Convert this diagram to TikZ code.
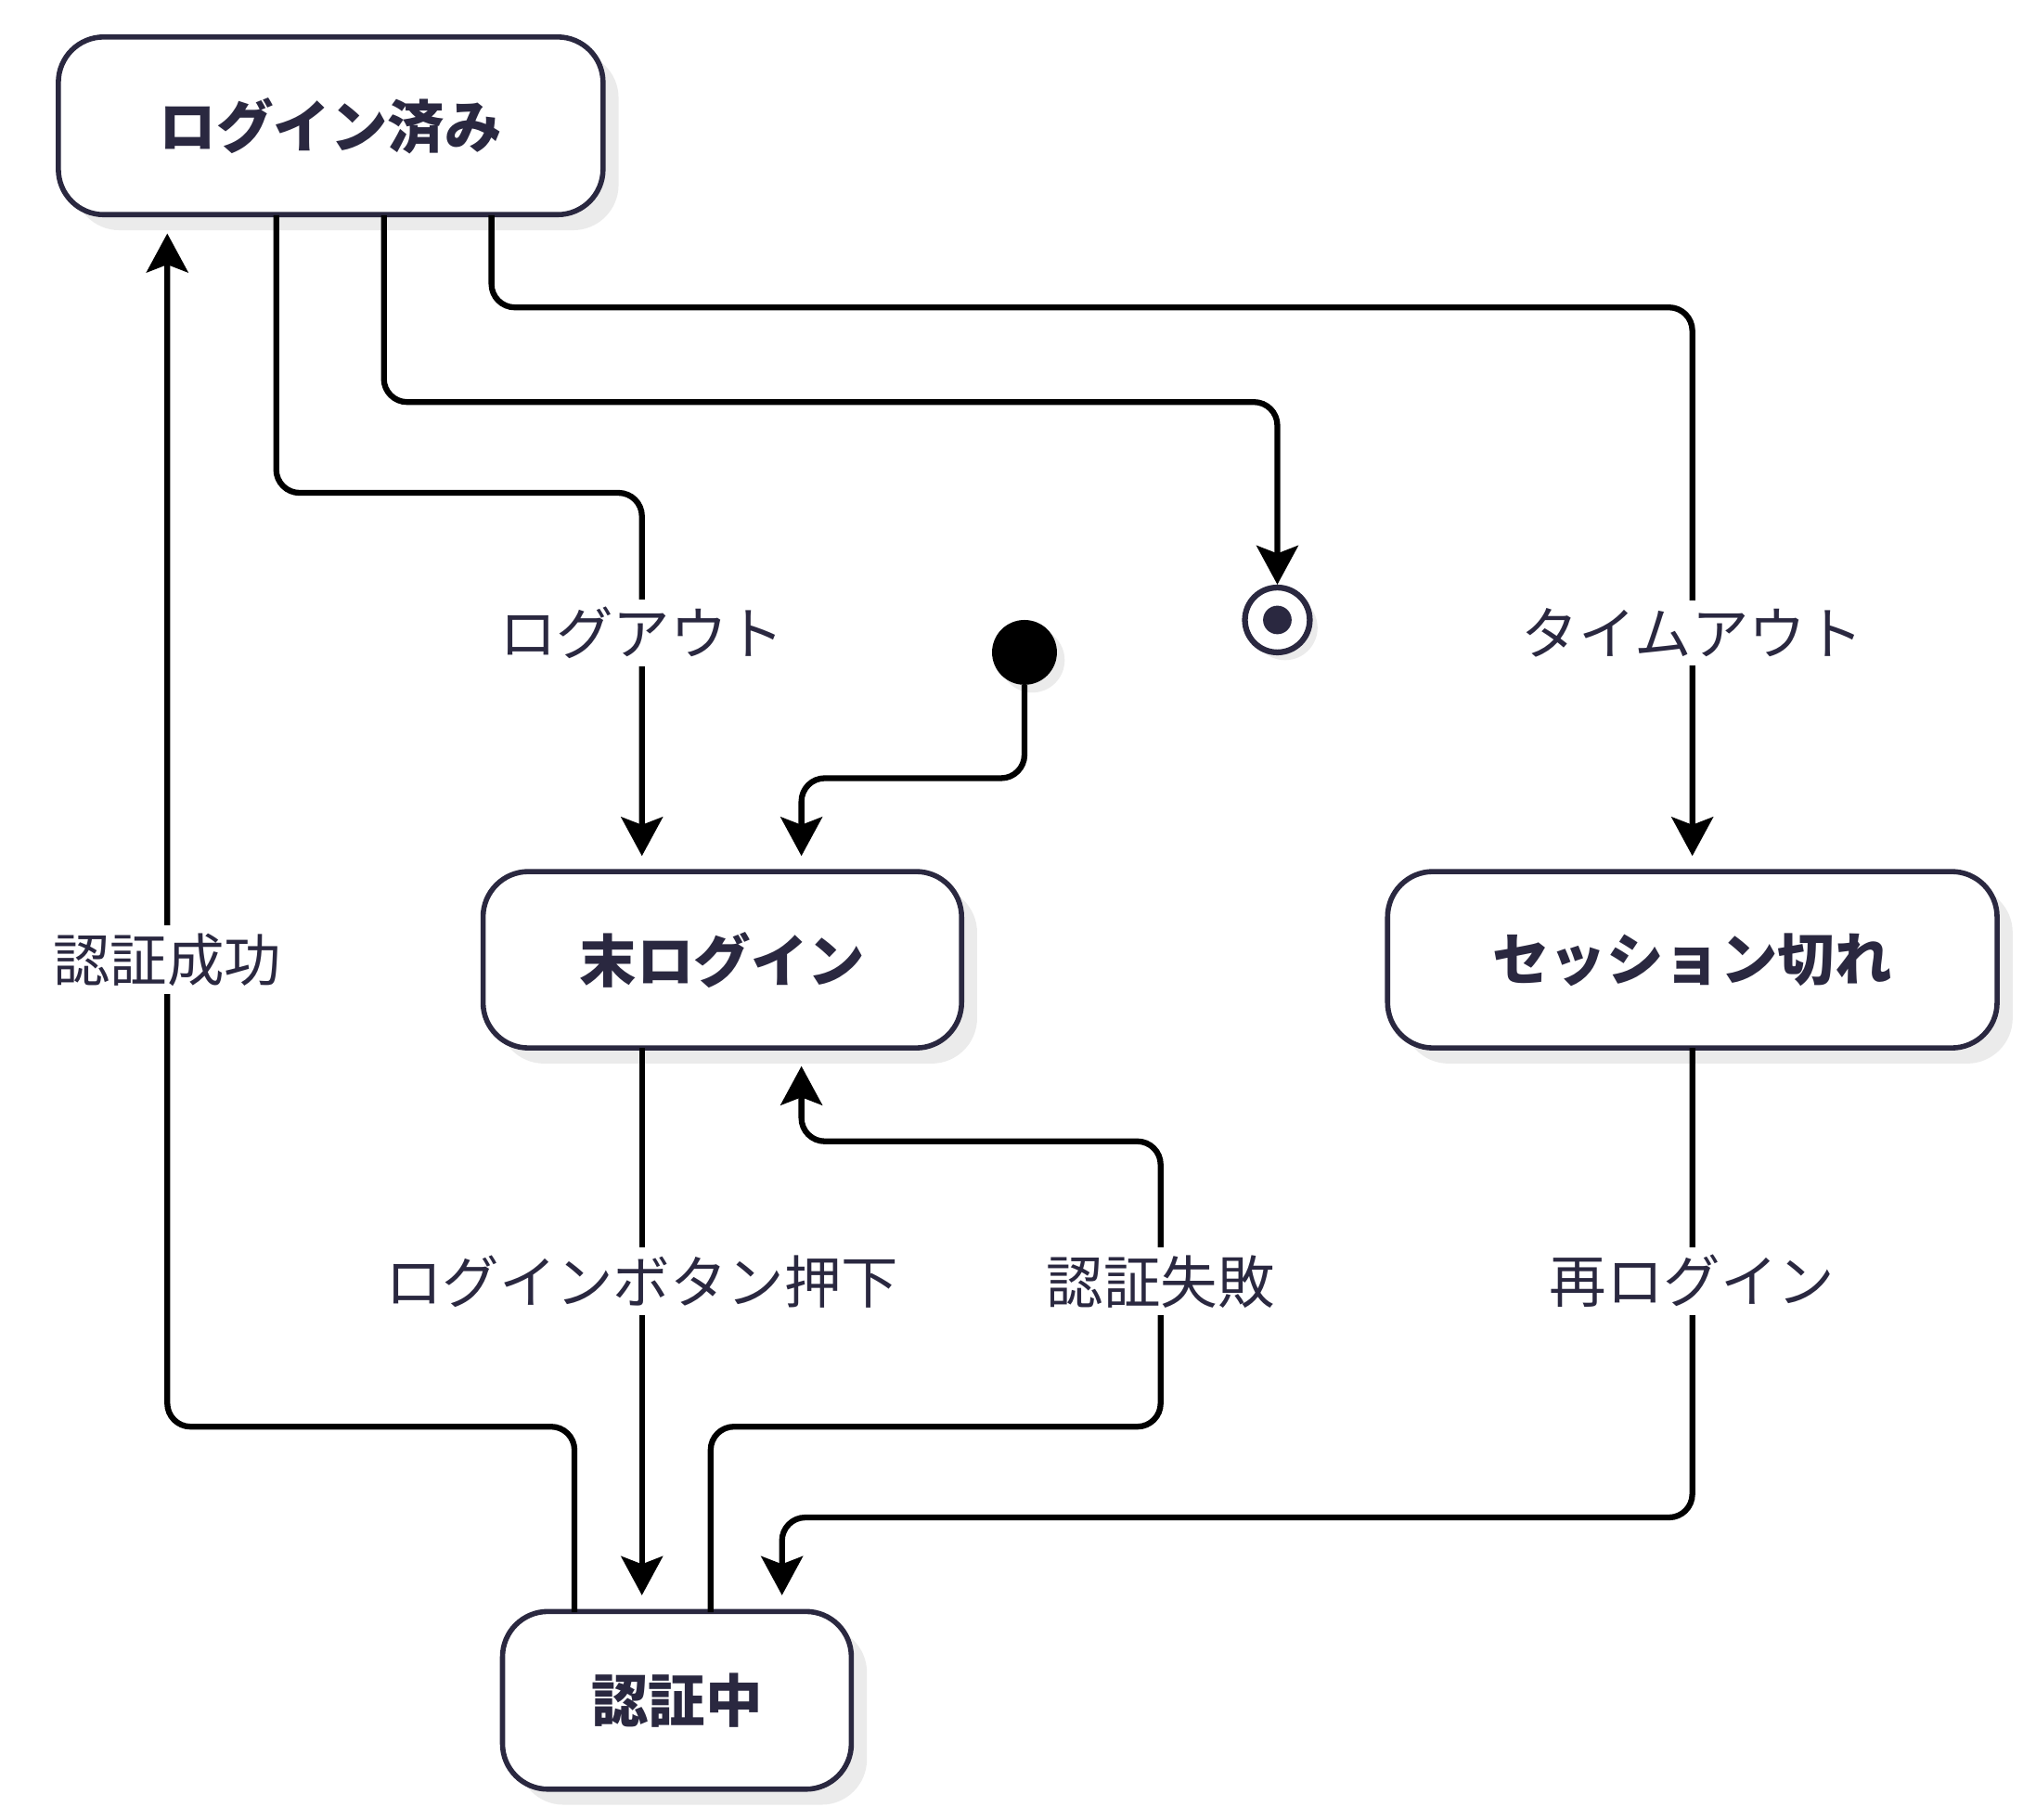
\documentclass[tikz,border=0pt]{standalone}
\usepackage{fontspec}
\setmainfont{Noto Sans CJK JP}
\usetikzlibrary{arrows.meta,shadows}
\definecolor{ink}{HTML}{2A2840}
\begin{document}
\begin{tikzpicture}[x=1pt,y=-1pt,
  st/.style={draw=ink,line width=4pt,rounded corners=35pt,fill=white,
    font=\fontsize{44}{50}\selectfont\bfseries,text=ink,
    drop shadow={shadow xshift=12pt,shadow yshift=-12pt,fill=black!8,opacity=1}},
  ed/.style={line width=4.5pt,rounded corners=18pt,-{Stealth[length=30pt,width=32pt,inset=6pt]}},
  lb/.style={fill=white,text=ink,font=\fontsize{44}{50}\selectfont,inner sep=6pt}]
\useasboundingbox (0,0) rectangle (1560,1403);
\node[st,minimum width=420pt,minimum height=137pt] (li) at (255,97) {ログイン済み};
\node[st,minimum width=369pt,minimum height=136pt] (ml) at (557,740) {末ログイン};
\node[st,minimum width=470pt,minimum height=136pt] (se) at (1305,740) {セッション切れ};
\node[st,minimum width=269pt,minimum height=137pt] (au) at (522,1311) {認証中};
\node[circle,fill=black,minimum size=50pt,inner sep=0pt,drop shadow={shadow xshift=6pt,shadow yshift=-6pt,fill=black!8,opacity=1}] (ini) at (790,503) {};
\node[circle,draw=ink,line width=4.5pt,fill=white,minimum size=50pt,inner sep=0pt,drop shadow={shadow xshift=6pt,shadow yshift=-6pt,fill=black!8,opacity=1}] (fin) at (985,478) {};
\fill[ink] (fin.center) circle (11pt);
\coordinate (a1) at (213,166); \coordinate (a1e) at (495,660);
\draw[ed] (a1) -- (213,380) -- (495,380) -- (a1e);
\node[lb] at (495,488) {ログアウト};
\draw[ed] (296,166) -- (296,310) -- (985,310) -- (fin.north);
\draw[ed] (379,166) -- (379,237) -- (1305,237) -- (1305,660);
\node[lb] at (1305,488) {タイムアウト};
\draw[ed] (ini.south) -- (790,600) -- (618,600) -- (618,660);
\draw[ed] (495,808) -- (495,1230);
\node[lb] at (495,988) {ログインボタン押下};
\draw[ed] (548,1243) -- (548,1100) -- (895,1100) -- (895,880) -- (618,880) -- (618,822);
\node[lb] at (895,988) {認証失敗};
\draw[ed] (443,1243) -- (443,1100) -- (129,1100) -- (129,180);
\node[lb] at (129,740) {認証成功};
\draw[ed] (1305,808) -- (1305,1170) -- (603,1170) -- (603,1230);
\node[lb] at (1305,988) {再ログイン};
\end{tikzpicture}
\end{document}
